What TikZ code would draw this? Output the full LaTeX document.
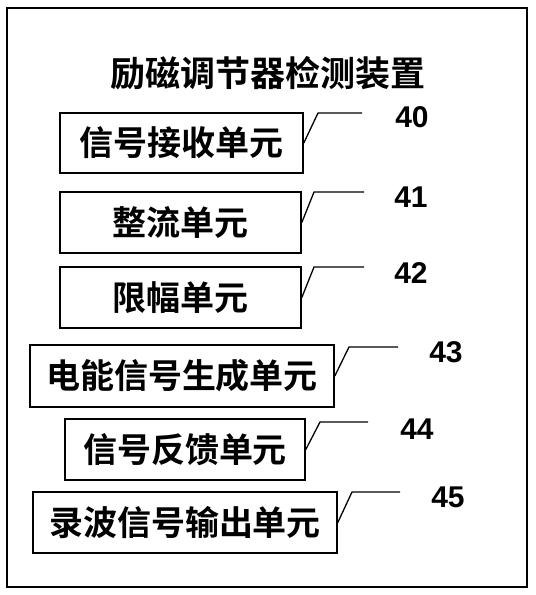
\documentclass[tikz,border=0pt]{standalone}
\usepackage{fontspec}
\newfontfamily\cjk{Noto Sans CJK SC}[BoldFont={Noto Sans CJK SC Bold}]
\newfontfamily\numfont{Liberation Sans}
\begin{document}
\begin{tikzpicture}[x=1pt,y=-1pt,
  unitbox/.style={draw=black,line width=1.6pt,inner sep=0pt,
    font=\cjk\bfseries\fontsize{34}{34}\selectfont},
  leader/.style={draw=black,line width=1.3pt},
  numlabel/.style={inner sep=0pt,font=\numfont\bfseries\fontsize{30}{30}\selectfont}]
\useasboundingbox (0,0) rectangle (536,595);
\fill[white] (0,0) rectangle (536,595);
\draw[line width=2.6pt] (7,8) rectangle (527,587);
\node[inner sep=0pt,font=\cjk\bfseries\fontsize{35}{35}\selectfont] (title) at (268,73)
  {励磁调节器检测装置};
% boxes
\node[unitbox,minimum width=243pt,minimum height=60pt] (b40) at (181.5,143) {信号接收单元};
\node[unitbox,minimum width=241pt,minimum height=61pt] (b41) at (180.5,222.5) {整流单元};
\node[unitbox,minimum width=241pt,minimum height=61pt] (b42) at (180.5,297.5) {限幅单元};
\node[unitbox,minimum width=304pt,minimum height=62pt] (b43) at (182,376) {电能信号生成单元};
\node[unitbox,minimum width=240pt,minimum height=61pt] (b44) at (185,449.5) {信号反馈单元};
\node[unitbox,minimum width=304pt,minimum height=61pt] (b45) at (185,522.5) {录波信号输出单元};
% labels
\node[numlabel] (n40) at (412,117) {40};
\node[numlabel] (n41) at (411,197) {41};
\node[numlabel] (n42) at (411,273) {42};
\node[numlabel] (n43) at (446,352) {43};
\node[numlabel] (n44) at (417,429) {44};
\node[numlabel] (n45) at (448,497) {45};
% leader ends
\coordinate (k40) at (318,113); \coordinate (e40) at (362,113);
\coordinate (k41) at (314,192); \coordinate (e41) at (364,192);
\coordinate (k42) at (314,267); \coordinate (e42) at (364,267);
\coordinate (k43) at (349,347); \coordinate (e43) at (398,347);
\coordinate (k44) at (320,422); \coordinate (e44) at (368,422);
\coordinate (k45) at (352,492); \coordinate (e45) at (400,492);
\foreach \i in {40,41,42,43,44,45}{
  \draw[leader] (b\i.east) -- (k\i) -- (e\i);
}
\end{tikzpicture}
\end{document}
